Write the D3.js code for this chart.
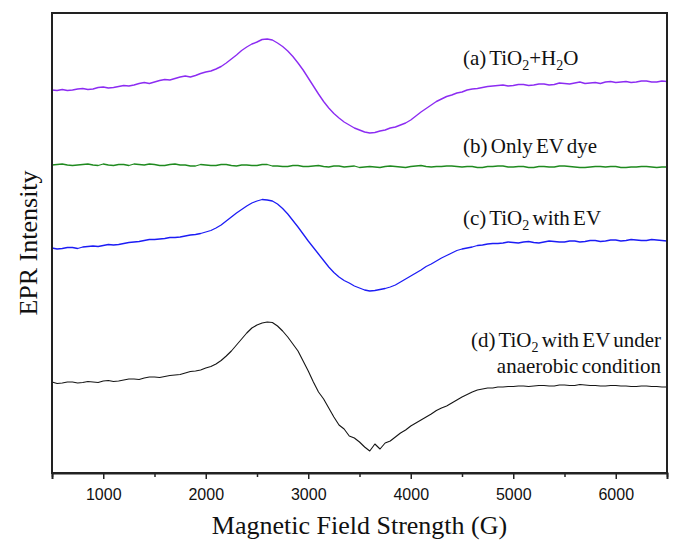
<!DOCTYPE html>
<html>
<head>
<meta charset="utf-8">
<script src="https://cdn.jsdelivr.net/npm/d3@7"></script>
<style>
  body { margin: 0; background: #fff; }
  svg { display: block; }
</style>
</head>
<body>
<div id="chart"></div>
<script>
// magnetic field sampling (G)
var fieldG = [
  500, 550, 600, 650, 700, 750, 800, 850, 900, 950,
  1000, 1050, 1100, 1150, 1200, 1250, 1300, 1350, 1400, 1450,
  1500, 1550, 1600, 1650, 1700, 1750, 1800, 1850, 1900, 1950,
  2000, 2050, 2100, 2150, 2200, 2250, 2300, 2350, 2400, 2450,
  2500, 2550, 2600, 2650, 2700, 2750, 2800, 2850, 2900, 2950,
  3000, 3050, 3100, 3150, 3200, 3250, 3300, 3350, 3400, 3450,
  3500, 3550, 3600, 3650, 3700, 3750, 3800, 3850, 3900, 3950,
  4000, 4050, 4100, 4150, 4200, 4250, 4300, 4350, 4400, 4450,
  4500, 4550, 4600, 4650, 4700, 4750, 4800, 4850, 4900, 4950,
  5000, 5050, 5100, 5150, 5200, 5250, 5300, 5350, 5400, 5450,
  5500, 5550, 5600, 5650, 5700, 5750, 5800, 5850, 5900, 5950,
  6000, 6050, 6100, 6150, 6200, 6250, 6300, 6350, 6400, 6450,
  6500];

// EPR intensity (arb. units, traces stacked)
var tio2Water = [
  383, 382.5, 383.5, 382.5, 383, 384, 384.5, 383.5, 384, 385.5,
  386, 385, 385.5, 386.5, 387.5, 387, 388, 389.5, 390.5, 389.5,
  391, 392.5, 393.5, 393, 394.5, 396, 397, 396, 397.5, 399.5,
  401, 402, 404, 406.5, 410, 414, 418, 422.5, 426, 429,
  431, 433.5, 434, 433, 430, 426.5, 422, 416.5, 410, 403,
  395, 387, 379, 371.5, 365, 359.5, 355, 351, 348, 345,
  343, 341, 340, 340.5, 342, 343, 345, 346, 348, 350,
  353, 357, 361, 364.5, 368, 371.5, 374, 376.5, 378, 380,
  381, 383, 384, 384.5, 385.5, 386.5, 387, 387.5, 388, 387,
  387.5, 388.5, 388.5, 387.5, 388, 389, 389, 388, 388.5, 390,
  389.5, 389, 390, 391, 389.5, 390, 390.5, 389.5, 391, 391.5,
  390.5, 391, 391.5, 390.5, 391, 392, 392, 391, 391, 392,
  391.5];

var evDye = [
  308, 308.5, 309, 308, 307.5, 308, 308.5, 309, 308, 307.5,
  309, 308, 307.5, 308.5, 308.5, 307.5, 309, 308.5, 308, 309,
  308.5, 307.5, 307.5, 308.5, 309, 308, 308, 307, 307, 308.5,
  308, 307.5, 307.5, 308.5, 308.5, 307.5, 307, 308, 308, 307.5,
  307.5, 308.5, 308.5, 307, 307, 306.5, 306.5, 307.5, 307.5, 306.5,
  306.5, 307, 307.5, 306.5, 306, 307, 307, 306, 306.5, 307,
  305.5, 306, 306.5, 306, 305.5, 306.5, 307, 306.5, 306, 305.5,
  306.5, 307, 307.5, 306.5, 306, 306.5, 306.5, 307, 307, 306.5,
  306, 306.5, 306.5, 305.5, 305.5, 306.5, 306.5, 307, 307, 306,
  306, 306.5, 306.5, 305.5, 305.5, 306.5, 306.5, 306, 306, 307,
  307, 306.5, 306, 305.5, 305.5, 306, 306.5, 306.5, 306, 306.5,
  306.5, 305.5, 305.5, 306, 306, 306.5, 306.5, 306, 305.5, 306,
  306];

var tio2Ev = [
  225, 224, 224.5, 225.5, 225.5, 224.5, 226, 226.5, 227, 226.5,
  227.5, 228.5, 228, 228.5, 229.5, 230.5, 231, 231.5, 232.5, 233.5,
  233.5, 234, 234.5, 235.5, 235.5, 236, 237, 238, 238.5, 239.5,
  241, 242.5, 245, 248, 252, 256, 260, 263.5, 267, 270,
  272, 273.5, 273, 272, 269, 264.5, 259, 252.5, 246, 239,
  232, 225.5, 219, 212.5, 206, 200.5, 196, 192.5, 190, 187,
  185, 183, 182, 182.5, 183.5, 184.5, 186, 188, 191, 194,
  197, 200, 203, 206.5, 209, 212, 215, 217.5, 220, 222.5,
  224, 225, 226, 227.5, 228, 229, 229.5, 229.5, 230, 231,
  230.5, 230, 231, 231.5, 230.5, 230, 231, 232, 231.5, 231,
  231, 232, 232, 231, 231.5, 232.5, 232.5, 231.5, 232, 233,
  233, 232, 232.5, 233.5, 233, 232.5, 232.5, 233.5, 233, 232.5,
  232];

var tio2EvAnaerobic = [
  91, 89.5, 90, 91, 91, 90, 90.5, 91.5, 91, 90.5,
  92, 92.5, 91.5, 92, 93, 94, 94, 93.5, 95, 96,
  96, 95.5, 96.5, 97.5, 98, 98.5, 100, 101.5, 102, 103,
  105, 106.5, 109, 112.5, 117, 122, 128, 134, 140, 145,
  148, 150, 151, 150.5, 147, 142, 136, 129, 122, 112,
  102, 91, 81, 74, 65, 56, 48, 44, 37, 35,
  31, 26, 22, 29, 24, 30, 32, 36, 40, 43,
  47, 50, 53, 56, 59, 62.5, 65, 67, 70, 73,
  76, 78.5, 81, 83, 84, 85, 85, 86, 86, 86.5,
  86.5, 87, 87, 86.5, 87, 87.5, 87.5, 87, 87, 88,
  88, 87.5, 87.5, 88.5, 88, 87.5, 87.5, 87, 87, 87.5,
  87.5, 87, 87, 86.5, 86.5, 87, 87, 86.5, 86.5, 86,
  86];

var majorTicks = [1000, 2000, 3000, 4000, 5000, 6000];
var minorTicks = [500, 1500, 2500, 3500, 4500, 5500, 6500];

var series = [
  {values: tio2Water, color: "#8c2cf2", width: 1.4},
  {values: evDye, color: "#1f8a1f", width: 1.3},
  {values: tio2Ev, color: "#1c1cf5", width: 1.3},
  {values: tio2EvAnaerobic, color: "#151515", width: 1.1}
];

var margin = {top: 13, right: 11, bottom: 70, left: 52},
    width = 678 - margin.left - margin.right,
    height = 543 - margin.top - margin.bottom;

var svg = d3.select("#chart").append("svg")
    .attr("width", 678)
    .attr("height", 543);

var g = svg.append("g")
    .attr("transform", "translate(" + margin.left + "," + margin.top + ")");

var x = d3.scaleLinear().domain([500, 6500]).range([0, width]);
var y = d3.scaleLinear().domain([0, 460]).range([height, 0]);

var line = d3.line()
    .x(function(d, i) { return x(fieldG[i]); })
    .y(function(d) { return y(d); });

series.forEach(function(s) {
  g.append("path")
      .datum(s.values)
      .attr("fill", "none")
      .attr("stroke", s.color)
      .attr("stroke-width", s.width)
      .attr("stroke-linejoin", "round")
      .attr("d", line);
});

// frame
g.append("rect")
    .attr("width", width)
    .attr("height", height)
    .attr("fill", "none")
    .attr("stroke", "#222")
    .attr("stroke-width", 2);

// x axis
var xAxis = g.append("g")
    .attr("transform", "translate(0," + height + ")")
    .call(d3.axisBottom(x).tickValues(majorTicks).tickSize(6).tickPadding(10).tickFormat(d3.format("d")));
xAxis.select(".domain").attr("stroke", "#222").attr("stroke-width", 2);
xAxis.selectAll(".tick line").attr("stroke", "#222").attr("stroke-width", 1.5);
xAxis.selectAll("text")
    .attr("font-family", "Liberation Sans, Arial, sans-serif")
    .attr("font-size", 16)
    .attr("fill", "#111");

g.append("g")
    .attr("transform", "translate(0," + height + ")")
    .call(d3.axisBottom(x).tickValues(minorTicks).tickSize(4).tickFormat(""))
    .call(function(a) { a.select(".domain").remove(); })
    .selectAll(".tick line").attr("stroke", "#222").attr("stroke-width", 1.5);

// axis titles
svg.append("text")
    .attr("x", margin.left + width / 2)
    .attr("y", 534)
    .attr("text-anchor", "middle")
    .attr("font-family", "Liberation Serif, Times New Roman, serif")
    .attr("font-size", 26)
    .attr("fill", "#111")
    .text("Magnetic Field Strength (G)");

svg.append("text")
    .attr("transform", "translate(37,243) rotate(-90)")
    .attr("text-anchor", "middle")
    .attr("font-family", "Liberation Serif, Times New Roman, serif")
    .attr("font-size", 26)
    .attr("fill", "#111")
    .text("EPR Intensity");

// trace labels (objects in parts are subscripts)
var labelFont = "Liberation Serif, Times New Roman, serif";

function label(px, py, anchor, parts) {
  var t = svg.append("text")
      .attr("x", px)
      .attr("y", py)
      .attr("text-anchor", anchor)
      .attr("font-family", labelFont)
      .attr("font-size", 21)
      .attr("word-spacing", -2)
      .attr("fill", "#111");
  var shift = 0;
  parts.forEach(function(p) {
    if (typeof p === "object") {
      t.append("tspan").attr("font-size", 14).attr("dy", 5).text(p.s);
      shift = -5;
    } else {
      t.append("tspan").attr("dy", shift).text(p);
      shift = 0;
    }
  });
}

label(463, 65, "start", ["(a) TiO", {s: "2"}, "+H", {s: "2"}, "O"]);
label(463, 153, "start", ["(b) Only EV dye"]);
label(463, 225, "start", ["(c) TiO", {s: "2"}, " with EV"]);
label(661, 347, "end", ["(d) TiO", {s: "2"}, " with EV under"]);
label(661, 373, "end", ["anaerobic condition"]);
</script>
</body>
</html>
